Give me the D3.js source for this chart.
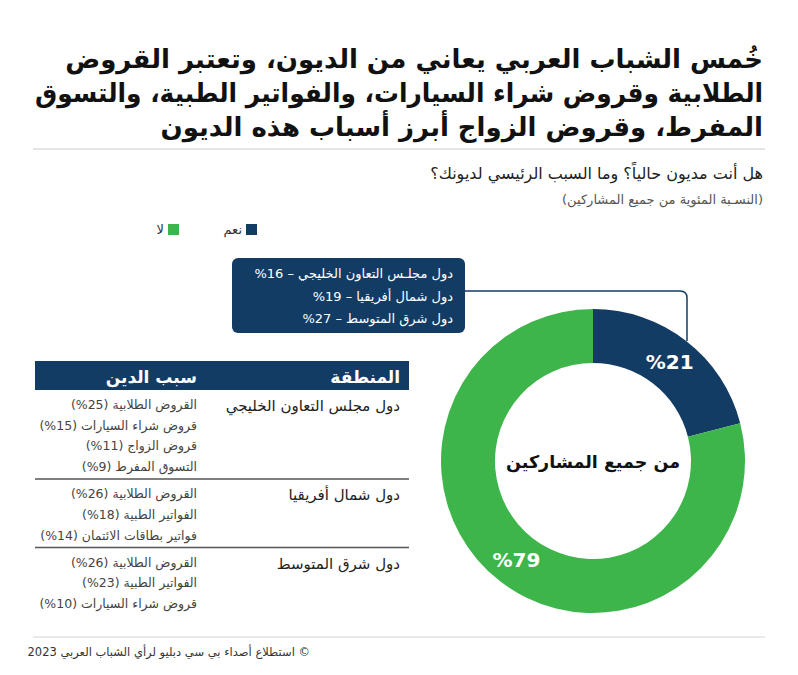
<!DOCTYPE html>
<html>
<head>
<meta charset="utf-8">
<script src="https://cdn.jsdelivr.net/npm/d3@7"></script>
<style>
  body{margin:0;background:#fff;}
  text{font-family:"DejaVu Sans",sans-serif;}
</style>
</head>
<body>
<div id="chart"></div>
<script>
var width=798,height=675;
var navy="#133c65",green="#3db54a";

// data
var titleLines=["خُمس الشباب العربي يعاني من الديون، وتعتبر القروض",
                "الطلابية وقروض شراء السيارات، والفواتير الطبية، والتسوق",
                "المفرط، وقروض الزواج أبرز أسباب هذه الديون"];
var question="هل أنت مديون حالياً؟ وما السبب الرئيسي لديونك؟";
var note="(النسـبة المئوية من جميع المشاركين)";
var answers=["نعم","لا"];
var shares=[21,79];
var regions=["دول مجلس التعاون الخليجي","دول شمال أفريقيا","دول شرق المتوسط"];
var calloutNames=["دول مجلـس التعاون الخليجي","دول شمال أفريقيا","دول شرق المتوسط"];
var regionDebt=[16,19,27];
var tableHead=["المنطقة","سبب الدين"];
var reasonNames=[["القروض الطلابية","قروض شراء السيارات","قروض الزواج","التسوق المفرط"],
                 ["القروض الطلابية","الفواتير الطبية","فواتير بطاقات الائتمان"],
                 ["القروض الطلابية","الفواتير الطبية","قروض شراء السيارات"]];
var reasonValues=[[25,15,11,9],[26,18,14],[26,23,10]];
var centerLabel="من جميع المشاركين";
var source="© استطلاع أصداء بي سي دبليو لرأي الشباب العربي 2023";

var svg=d3.select("#chart").append("svg")
    .attr("width",width).attr("height",height);

// percent shown as "%25", kept as an LTR island inside arabic text
function pct(v){return "\u2066%"+v+"\u2069";}

// rtl text helper: x is the right edge
function rtl(g,x,y,txt,size,weight,fill){
  return g.append("text")
    .attr("x",x).attr("y",y)
    .attr("direction","rtl")
    .attr("text-anchor","start")
    .attr("font-size",size)
    .attr("font-weight",weight)
    .attr("fill",fill)
    .text(txt);
}

// title
var titleMax=728;
titleLines.forEach(function(t,i){
  var el=rtl(svg,763,68+i*34,t,26,"bold","#111");
  if(el.node().getComputedTextLength()>titleMax){
    el.attr("textLength",titleMax).attr("lengthAdjust","spacingAndGlyphs");
  }
});
svg.append("line").attr("x1",33).attr("x2",765).attr("y1",149).attr("y2",149)
   .attr("stroke","#dddddd").attr("stroke-width",1.5);

rtl(svg,763,179,question,16,"normal","#222");
rtl(svg,763,204,note,13,"normal","#555");

// legend
var color=d3.scaleOrdinal().domain(answers).range([navy,green]);
var legendX=d3.scalePoint().domain(answers).range([257,179]);
var lg=svg.append("g").selectAll("g").data(answers).enter().append("g");
lg.append("rect")
  .attr("x",function(d){return legendX(d)-11;}).attr("y",224)
  .attr("width",11).attr("height",11)
  .attr("fill",function(d){return color(d);});
lg.each(function(d){
  rtl(d3.select(this),legendX(d)-15,234,d,13,"normal","#333");
});

// donut
var cx=593,cy=461,rOut=152,rIn=98;
var pie=d3.pie().sort(null).value(function(d){return d;});
var arc=d3.arc().innerRadius(rIn).outerRadius(rOut);
var donut=svg.append("g").attr("transform","translate("+cx+","+cy+")");
var arcs=pie(shares);
donut.selectAll("path").data(arcs).enter().append("path")
  .attr("d",arc)
  .attr("fill",function(d,i){return color(answers[i]);});
donut.selectAll("text.pct").data(arcs).enter().append("text")
  .attr("class","pct")
  .attr("transform",function(d){var c=arc.centroid(d);return "translate("+c[0]+","+(c[1]+7)+")";})
  .attr("text-anchor","middle")
  .attr("font-size",20).attr("font-weight","bold").attr("fill","#fff")
  .text(function(d){return "%"+d.data;});
donut.append("text").attr("y",7).attr("text-anchor","middle")
  .attr("font-size",17.5).attr("font-weight","bold").attr("fill","#111")
  .text(centerLabel);

// callout
var box={x:232,y:258,w:233,h:75};
svg.append("path")
  .attr("d","M"+(box.x+box.w)+",291 H680 Q687,291 687,298 V341")
  .attr("fill","none").attr("stroke",navy).attr("stroke-width",1.5);
svg.append("rect").attr("x",box.x).attr("y",box.y)
  .attr("width",box.w).attr("height",box.h).attr("rx",6).attr("fill",navy);
calloutNames.forEach(function(n,i){
  rtl(svg,box.x+box.w-12,box.y+20+i*22.5,n+" – "+pct(regionDebt[i]),13,"normal","#fff");
});

// table
var tx0=35,tx1=409,colRegion=400,colReason=197;
svg.append("rect").attr("x",tx0).attr("y",361).attr("width",tx1-tx0).attr("height",29).attr("fill",navy);
rtl(svg,colRegion,383,tableHead[0],17,"bold","#fff");
rtl(svg,colReason,383,tableHead[1],17,"bold","#fff");

var lineH=20.7,rowTop=390;
regions.forEach(function(r,i){
  var g=svg.append("g");
  var y0=rowTop+19;
  rtl(g,colRegion,y0+2,r,15,"normal","#222");
  reasonNames[i].forEach(function(n,j){
    rtl(g,colReason,y0+j*lineH,n+" ("+pct(reasonValues[i][j])+")",12.5,"normal","#444");
  });
  var bottom=y0+(reasonNames[i].length-1)*lineH+8;
  if(i<regions.length-1){
    g.append("line").attr("x1",tx0).attr("x2",tx1).attr("y1",bottom).attr("y2",bottom)
     .attr("stroke","#555").attr("stroke-width",1.5);
  }
  rowTop=bottom;
});

// footer
svg.append("line").attr("x1",33).attr("x2",765).attr("y1",637).attr("y2",637)
   .attr("stroke","#e3e3e3").attr("stroke-width",1.5);
rtl(svg,310,656,source,11.5,"normal","#333");
</script>
</body>
</html>
